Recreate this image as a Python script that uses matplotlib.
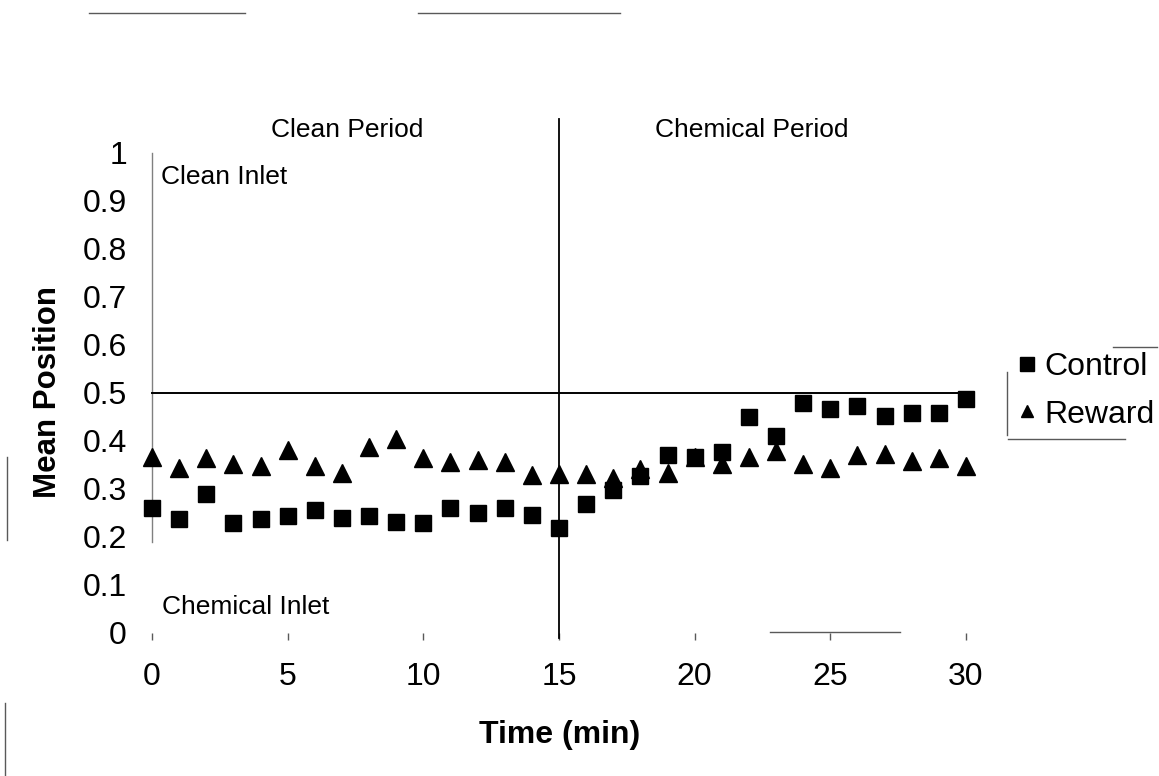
import matplotlib
matplotlib.use("Agg")
import matplotlib.pyplot as plt
from matplotlib.lines import Line2D

# Mean position of fish in the flume over time (0 = chemical inlet, 1 = clean inlet)
minutes = list(range(0, 31))
control = [0.260, 0.238, 0.289, 0.229, 0.238, 0.244, 0.256, 0.240, 0.244, 0.231, 0.229,
           0.260, 0.250, 0.260, 0.246, 0.219, 0.269, 0.297, 0.327, 0.370, 0.366,
           0.378, 0.450, 0.411, 0.479, 0.467, 0.473, 0.452, 0.459, 0.459, 0.488]
reward = [0.367, 0.343, 0.364, 0.353, 0.347, 0.382, 0.347, 0.333, 0.388, 0.405, 0.364,
          0.357, 0.360, 0.357, 0.329, 0.332, 0.332, 0.322, 0.341, 0.333, 0.366,
          0.353, 0.367, 0.380, 0.353, 0.343, 0.370, 0.372, 0.359, 0.365, 0.347]
series_names = ["Control", "Reward"]
x_ticks = [0, 5, 10, 15, 20, 25, 30]
y_ticks = [0, 0.1, 0.2, 0.3, 0.4, 0.5, 0.6, 0.7, 0.8, 0.9, 1.0]
y_tick_labels = ["0", "0.1", "0.2", "0.3", "0.4", "0.5", "0.6", "0.7", "0.8", "0.9", "1"]
switch_time = 15
midline = 0.5

plt.rcParams["font.family"] = ["Liberation Sans", "DejaVu Sans"]

W, H = 1159, 776
fig = plt.figure(figsize=(W / 100, H / 100), dpi=100)
fig.patch.set_facecolor("white")


def fx(px):
    return px / W


def fy(py):
    return 1 - py / H


ax = fig.add_axes([fx(152), fy(633), (966 - 152) / W, (633 - 153) / H])
ax.set_xlim(0, 30)
ax.set_ylim(0, 1)
for s in ax.spines.values():
    s.set_visible(False)

# reference lines
ax.plot([0, 30], [midline, midline], color="black", lw=1.4, zorder=2, clip_on=False)
ax.plot([switch_time, switch_time], [-0.01, 1.07], color="black", lw=1.3, zorder=2, clip_on=False)
ax.plot([0, 0], [0.19, 1.0], color="0.5", lw=1.0, zorder=1, clip_on=False)

# data
ax.plot(minutes, reward, linestyle="none", marker="^", ms=13, color="black",
        zorder=3, clip_on=False, label=series_names[1])
ax.plot(minutes, control, linestyle="none", marker="s", ms=12, color="black",
        zorder=4, clip_on=False, label=series_names[0])

ax.set_xticks(x_ticks)
ax.set_xticklabels([str(t) for t in x_ticks])
ax.set_yticks(y_ticks)
ax.set_yticklabels(y_tick_labels)
ax.tick_params(axis="x", length=5, width=1, color="0.35", pad=16, labelsize=23)
ax.tick_params(axis="y", length=0, pad=18, labelsize=23)

# annotations
fig.text(fx(347), fy(130), "Clean Period", ha="center", va="center", fontsize=19)
fig.text(fx(752), fy(130), "Chemical Period", ha="center", va="center", fontsize=19)
fig.text(fx(161), fy(177), "Clean Inlet", ha="left", va="center", fontsize=19)
fig.text(fx(162), fy(607), "Chemical Inlet", ha="left", va="center", fontsize=19)
fig.text(fx(48), fy(392), "Mean Position", rotation=90, ha="center", va="center",
         fontsize=22.5, fontweight="bold")
fig.text(fx(560), fy(735), "Time (min)", ha="center", va="center",
         fontsize=23, fontweight="bold")

# legend
handles = [Line2D([], [], linestyle="none", marker="s", ms=9.5, color="black"),
           Line2D([], [], linestyle="none", marker="^", ms=9, color="black")]
fig.legend(handles, series_names, loc="upper left", bbox_to_anchor=(fx(1019), fy(352)),
           frameon=False, fontsize=23, borderpad=0, handlelength=0.5,
           handletextpad=0.3, labelspacing=0.55, borderaxespad=0)

# partial legend frame and page edge marks
edge_lines = [
    ([1113, 1157], [347, 347]),
    ([1007, 1007], [372, 435]),
    ([1008, 1125], [439, 439]),
    ([89, 245], [13, 13]),
    ([418, 620], [13, 13]),
    ([770, 900], [632, 632]),
    ([7, 7], [457, 540]),
    ([5, 5], [703, 776]),
]
for xs, ys in edge_lines:
    fig.add_artist(Line2D([fx(v) for v in xs], [fy(v) for v in ys],
                          color="0.35", lw=1.0))

fig.savefig("out.png", dpi=100, facecolor="white")
